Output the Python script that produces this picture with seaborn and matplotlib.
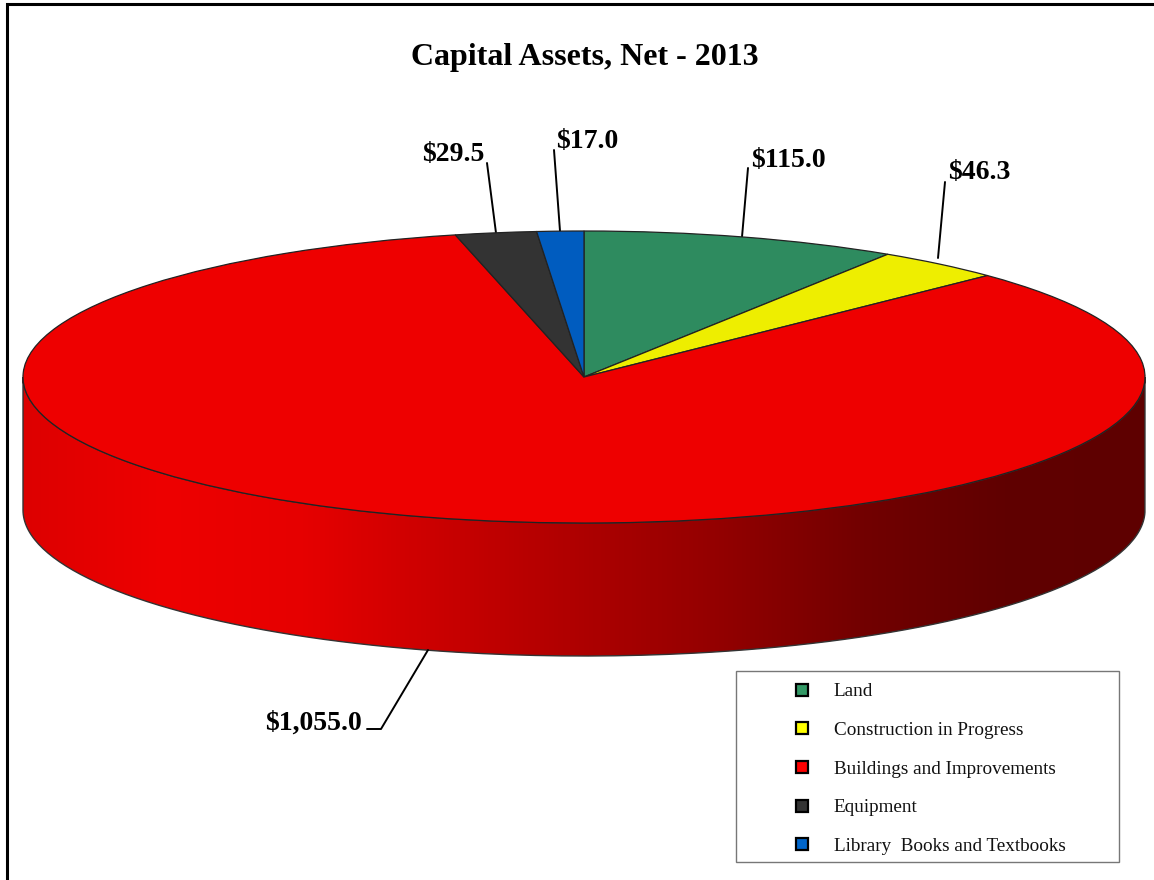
import matplotlib
matplotlib.use('Agg')
import matplotlib.pyplot as plt
from matplotlib.lines import Line2D
from matplotlib.patches import Rectangle, PathPatch
from matplotlib.path import Path
import numpy as np
import seaborn as sns

categories = ['Land', 'Construction in Progress', 'Buildings and Improvements',
              'Equipment', 'Library  Books and Textbooks']
values = [115.0, 46.3, 1055.0, 29.5, 17.0]
value_labels = ['$115.0', '$46.3', '$1,055.0', '$29.5', '$17.0']
top_colors = ['#2e8b5f', '#eeee00', '#ee0000', '#333333', '#005cbf']
legend_colors = ['#339966', '#ffff00', '#ff0000', '#333333', '#0066cc']
side_colors = ['#dd0000', '#ee0000', '#e60000', '#c90000', '#ad0000', '#920000', '#720000', '#600000', '#5e0000']

W, H = 1154, 880
LEFT, RIGHT, TOP, BOTTOM = 23, 1145, 231, 523
DEPTH = 133

sns.set_theme(style='white')
plt.rcParams['font.family'] = ['Liberation Serif', 'DejaVu Serif']

fig = plt.figure(figsize=(W / 100, H / 100), dpi=100, facecolor='white')

# background axes in picture pixels
bg = fig.add_axes([0, 0, 1, 1])
bg.set_xlim(0, W)
bg.set_ylim(H, 0)
bg.axis('off')

# outer frame, only left and top show
bg.plot([7, 7, W], [H, 4, 4], color='black', linewidth=2.2, solid_joinstyle='miter')

# side of the disc, horizontal gradient clipped to the rim shape
cx, cy = (LEFT + RIGHT) / 2, (TOP + BOTTOM) / 2
rx, ry = (RIGHT - LEFT) / 2, (BOTTOM - TOP) / 2
t = np.linspace(np.pi, 0, 200)
rim_x = cx + rx * np.cos(t)
rim_y = cy + ry * np.sin(t)
verts = np.r_[np.c_[rim_x, rim_y], np.c_[rim_x[::-1], rim_y[::-1] + DEPTH], [[rim_x[0], rim_y[0]]]]
rim = Path(verts)
cmap = sns.blend_palette(side_colors, as_cmap=True)
grad = np.linspace(0, 1, 512)[None, :]
img = bg.imshow(grad, cmap=cmap, extent=(LEFT, RIGHT, cy + ry + DEPTH, cy), aspect='auto', zorder=1)
bg.set_xlim(0, W)
bg.set_ylim(H, 0)
patch = PathPatch(rim, facecolor='none', edgecolor='#333333', linewidth=1.0, zorder=2)
bg.add_patch(patch)
img.set_clip_path(patch)

# leader lines
leaders = [([742, 748], [237, 168]), ([938, 945], [258, 182]),
           ([428, 381, 367], [650, 729, 729]), ([496, 487], [233, 163]), ([560, 554], [231, 150])]
for xs, ys in leaders:
    bg.plot(xs, ys, color='black', linewidth=1.4, zorder=3)

# top face: an ordinary pie stretched into the ellipse
ax = fig.add_axes([LEFT / W, 1 - BOTTOM / H, (RIGHT - LEFT) / W, (BOTTOM - TOP) / H], zorder=3)
wedges, _ = ax.pie(values, colors=top_colors, startangle=90, counterclock=False, radius=1,
                   wedgeprops={'edgecolor': '#222222', 'linewidth': 0.9})
ax.set_aspect('auto')
ax.set_xlim(-1, 1)
ax.set_ylim(-1, 1)
ax.patch.set_alpha(0)
for w in wedges:
    w.set_clip_on(False)

# title and value labels
bg.text(585, 57, 'Capital Assets, Net - 2013', ha='center', va='center', fontsize=23, fontweight='bold', color='black')
label_pos = [(751, 160.5), (948, 172.5), (362, 723.5), (484, 154.5), (556, 141.5)]
label_ha = ['left', 'left', 'right', 'right', 'left']
for txt, (x, y), ha in zip(value_labels, label_pos, label_ha):
    bg.text(x, y, txt, ha=ha, va='center', fontsize=20, fontweight='bold', color='black', zorder=5)

# legend box
bg.add_patch(Rectangle((736, 671), 383, 191, facecolor='white', edgecolor='#777777', linewidth=1.0, zorder=4))
handles = [Line2D([], [], linestyle='none', marker='s', markersize=8, markerfacecolor=c,
                  markeredgecolor='black', markeredgewidth=1.6) for c in legend_colors]
leg = bg.legend(handles, categories, loc='upper left', bbox_to_anchor=(792 / W, 1 - 683 / H),
                bbox_transform=fig.transFigure, frameon=False, fontsize=13.8, labelspacing=1.11,
                handlelength=1.0, handletextpad=1.19, borderpad=0, borderaxespad=0)
leg.set_zorder(6)
for text in leg.get_texts():
    text.set_color('#111111')

fig.savefig('out.png', dpi=100)
